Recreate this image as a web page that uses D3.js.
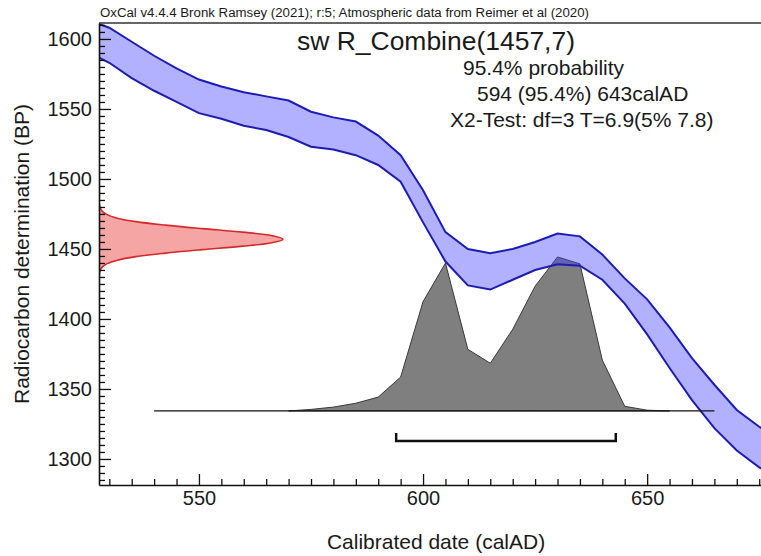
<!DOCTYPE html>
<html>
<head>
<meta charset="utf-8">
<script src="https://cdn.jsdelivr.net/npm/d3@7"></script>
<style>
  body { margin: 0; background: #fff; }
  text { font-family: "Liberation Sans", Arial, sans-serif; fill: #1a1a1a; }
</style>
</head>
<body>
<div class="d3-content"></div>
<script>
const SVG_WIDTH = 761;
const SVG_HEIGHT = 556;
const PLOT = { left: 99, right: 761, top: 23, bottom: 485 };

// calibration curve envelope (upper / lower BP) every 5 years
const curveDates = [525, 530, 535, 540, 545, 550, 555, 560, 565, 570, 575, 580, 585, 590, 595, 600,
                    605, 610, 615, 620, 625, 630, 635, 640, 645, 650, 655, 660, 665, 670, 675, 680];
const curveUpper = [1614, 1608, 1598, 1588, 1579, 1571, 1566, 1562, 1559, 1556, 1548, 1544, 1541, 1531, 1517, 1492,
                    1462, 1450, 1447, 1450, 1455, 1461, 1459, 1446, 1429, 1414, 1394, 1372, 1353, 1335, 1323, 1314];
const curveLower = [1591, 1583, 1572, 1563, 1555, 1547, 1543, 1538, 1535, 1530, 1523, 1521, 1517, 1510, 1498, 1469,
                    1441, 1424, 1421, 1428, 1435, 1439, 1438, 1428, 1411, 1389, 1365, 1342, 1322, 1306, 1294, 1285];

// measured combined date R_Combine(1457,7), relative probability by BP
const measBP   = [1432, 1434.5, 1437, 1439.5, 1442, 1444.5, 1447, 1449.5, 1452, 1454.5, 1457,
                  1459.5, 1462, 1464.5, 1467, 1469.5, 1472, 1474.5, 1477, 1479.5, 1482];
const measProb = [0.002, 0.006, 0.017, 0.044, 0.10, 0.20, 0.36, 0.56, 0.78, 0.94, 1.0,
                  0.94, 0.78, 0.56, 0.36, 0.20, 0.10, 0.044, 0.017, 0.006, 0.002];

// calibrated date distribution
const calDates = [570, 575, 580, 585, 590, 595, 600, 605, 610, 615, 620, 625, 630, 635, 640, 645, 650, 655];
const calProb  = [0, 0.01, 0.025, 0.05, 0.09, 0.22, 0.71, 0.96, 0.40, 0.31, 0.53, 0.81, 1.0, 0.955, 0.33, 0.03, 0.005, 0];
const calBaseBP = 1334.3;
const calLine = [540, 665];

// 95.4% range
const rangeFrom = 594;
const rangeTo = 643;

const xMajor = [550, 600, 650];
const yMajor = [1300, 1350, 1400, 1450, 1500, 1550, 1600];

const headerText = 'OxCal v4.4.4 Bronk Ramsey (2021); r:5; Atmospheric data from Reimer et al (2020)';
const infoLines = ['95.4% probability', '594 (95.4%) 643calAD', 'X2-Test: df=3 T=6.9(5% 7.8)'];

const svg = d3.select('.d3-content')
              .append('svg')
              .attr('width', SVG_WIDTH)
              .attr('height', SVG_HEIGHT);

const xscale = d3.scaleLinear()
  .domain([527.7, 675.4])
  .range([PLOT.left, PLOT.right]);

const yscale = d3.scaleLinear()
  .domain([1281.4, 1611.4])
  .range([PLOT.bottom, PLOT.top]);

// widths of the two distributions
const measScale = d3.scaleLinear().domain([0, 1]).range([PLOT.left, PLOT.left + 184]);
const calScale = d3.scaleLinear().domain([0, 1]).range([yscale(calBaseBP), yscale(calBaseBP) - 154]);

svg.append('clipPath').attr('id', 'plot-clip')
   .append('rect')
   .attr('x', PLOT.left).attr('y', PLOT.top)
   .attr('width', PLOT.right - PLOT.left).attr('height', PLOT.bottom - PLOT.top);

const plot = svg.append('g').attr('clip-path', 'url(#plot-clip)');

// measured date (red, on the y axis)
const meas = measBP.map((b, i) => ({ bp: b, p: measProb[i] }));
plot.append('path')
    .datum(meas)
    .attr('d', d3.area()
      .curve(d3.curveCatmullRom)
      .y(d => yscale(d.bp))
      .x0(measScale(0))
      .x1(d => measScale(d.p)))
    .attr('fill', '#f6a5a5')
    .attr('stroke', '#d42a2a')
    .attr('stroke-width', 1.6);

// calibrated distribution (grey)
const cal = calDates.map((d, i) => ({ date: d, p: calProb[i] }));
plot.append('path')
    .datum(cal)
    .attr('d', d3.area()
      .x(d => xscale(d.date))
      .y0(calScale(0))
      .y1(d => calScale(d.p)))
    .attr('fill', '#7f7f7f')
    .attr('stroke', '#3a3a3a')
    .attr('stroke-width', 1);

// calibration curve band
const band = curveDates.map((d, i) => ({ date: d, hi: curveUpper[i], lo: curveLower[i] }));
plot.append('path')
    .datum(band)
    .attr('d', d3.area()
      .x(d => xscale(d.date))
      .y0(d => yscale(d.lo))
      .y1(d => yscale(d.hi)))
    .attr('fill', 'rgb(60,60,255)')
    .attr('fill-opacity', 0.4);

['hi', 'lo'].forEach(k => {
  plot.append('path')
      .datum(band)
      .attr('d', d3.line().x(d => xscale(d.date)).y(d => yscale(d[k])))
      .attr('fill', 'none')
      .attr('stroke', '#1c1cb4')
      .attr('stroke-width', 2);
});

// baseline of the calibrated distribution
plot.append('line')
    .attr('x1', xscale(calLine[0])).attr('x2', xscale(calLine[1]))
    .attr('y1', calScale(0)).attr('y2', calScale(0))
    .attr('stroke', '#111')
    .attr('stroke-width', 1.3);

// 95.4% range bracket
const barY = calScale(0) + 30;
plot.append('path')
    .attr('d', `M${xscale(rangeFrom)},${barY - 8} V${barY} H${xscale(rangeTo)} V${barY - 8}`)
    .attr('fill', 'none')
    .attr('stroke', '#111')
    .attr('stroke-width', 2.5);

// axes
const xAxis = svg.append('g')
  .attr('transform', `translate(0, ${PLOT.bottom})`)
  .call(d3.axisBottom(xscale).tickValues(xMajor).tickFormat(d3.format('d'))
          .tickSizeInner(-11).tickSizeOuter(0).tickPadding(6));

svg.append('g')
  .attr('transform', `translate(0, ${PLOT.bottom})`)
  .call(d3.axisBottom(xscale).tickValues(d3.range(530, 676, 5).filter(v => v % 50))
          .tickFormat('').tickSizeInner(-6).tickSizeOuter(0))
  .select('.domain').remove();

const yAxis = svg.append('g')
  .attr('transform', `translate(${PLOT.left}, 0)`)
  .call(d3.axisLeft(yscale).tickValues(yMajor).tickFormat(d3.format('d'))
          .tickSizeInner(-12).tickSizeOuter(0).tickPadding(7));

svg.append('g')
  .attr('transform', `translate(${PLOT.left}, 0)`)
  .call(d3.axisLeft(yscale).tickValues(d3.range(1285, 1611, 5).filter(v => v % 50))
          .tickFormat('').tickSizeInner(-6).tickSizeOuter(0))
  .select('.domain').remove();

svg.selectAll('.tick line').attr('stroke', '#111').attr('stroke-width', 1.3);
svg.selectAll('.domain').attr('stroke', '#111').attr('stroke-width', 1.6);
xAxis.selectAll('text').attr('font-size', 20).attr('fill', '#1a1a1a');
yAxis.selectAll('text').attr('font-size', 20).attr('fill', '#1a1a1a');

// top border
svg.append('line')
   .attr('x1', PLOT.left).attr('x2', PLOT.right)
   .attr('y1', PLOT.top).attr('y2', PLOT.top)
   .attr('stroke', '#333')
   .attr('stroke-width', 1.3);

// header
svg.append('text')
   .text(headerText)
   .attr('x', 100).attr('y', 17)
   .attr('font-size', 12)
   .attr('textLength', 489)
   .attr('lengthAdjust', 'spacingAndGlyphs');

// title and info
svg.append('text')
   .text('sw R_Combine(1457,7)')
   .attr('x', 297).attr('y', 50)
   .attr('font-size', 25)
   .attr('textLength', 278)
   .attr('lengthAdjust', 'spacingAndGlyphs');

const infoX = [463, 477, 450];
const infoY = [75, 101, 127];
infoLines.forEach((t, i) => {
  svg.append('text')
     .text(t)
     .attr('x', infoX[i]).attr('y', infoY[i])
     .attr('font-size', 21);
});

// axis labels
svg.append('text')
   .text('Calibrated date (calAD)')
   .attr('text-anchor', 'middle')
   .attr('font-size', 21)
   .attr('transform', `translate(436, 549)`);

svg.append('text')
   .text('Radiocarbon determination (BP)')
   .attr('text-anchor', 'middle')
   .attr('font-size', 21)
   .attr('transform', `translate(29, 254) rotate(-90)`);
</script>
</body>
</html>
